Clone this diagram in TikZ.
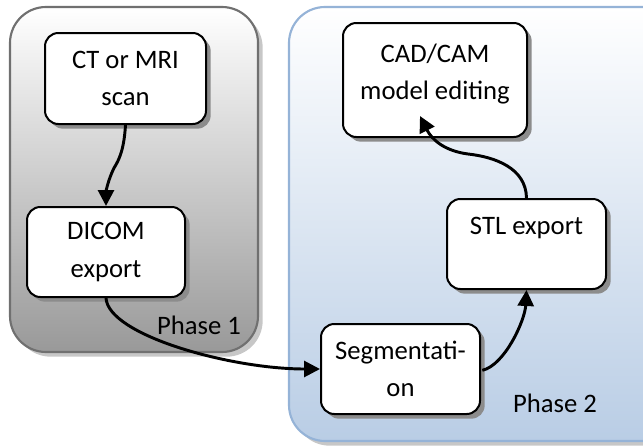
\documentclass[tikz,border=0pt]{standalone}
\usepackage{fontspec}
\setmainfont{Carlito}
\usetikzlibrary{arrows.meta,shadows}
\definecolor{pblue}{HTML}{95B3D7}
\definecolor{pbluefill}{HTML}{B9CDE5}
\definecolor{pgray}{HTML}{707070}
\begin{document}
\begin{tikzpicture}[x=0.75pt,y=-0.75pt,
  phase/.style={line width=1.6pt, rounded corners=27pt,
    drop shadow={shadow xshift=3.5pt,shadow yshift=-3.5pt,fill=black!22,opacity=1}},
  box/.style={draw=black, line width=1.5pt, fill=white, rounded corners=10pt,
    inner sep=0pt, align=center,
    font=\fontsize{20pt}{28pt}\selectfont,
    drop shadow={shadow xshift=3.5pt,shadow yshift=-3.5pt,fill=black!45,opacity=1}},
  lbl/.style={font=\fontsize{20pt}{28pt}\selectfont, inner sep=0pt},
  arr/.style={line width=2.2pt, -{Triangle[length=12pt,width=12pt]}}]
\clip (0,0) rectangle (643,446);
\useasboundingbox (0,0) rectangle (643,446);
% containers
\path[phase, draw=pgray, top color=white, bottom color=black!40]
  (10,7) rectangle (258,352);
\path[phase, draw=pblue, top color=white, bottom color=pbluefill]
  (289,7) rectangle (690,441);
\node[lbl] (p1) at (199,325) {Phase 1};
\node[lbl] (p2) at (555,403) {Phase 2};
% boxes
\node[box, minimum width=120.75pt, minimum height=68.25pt] (ct) at (125.5,78.5) {CT or MRI\\scan};
\node[box, minimum width=118.5pt, minimum height=67.5pt] (dicom) at (106,252) {DICOM\\export};
\node[box, minimum width=138pt, minimum height=85.5pt] (cad) at (435,80) {};
\node[lbl, align=center] (cadtxt) at (435,74) {CAD/CAM\\model editing};
\node[box, minimum width=119.25pt, minimum height=67.5pt] (stl) at (526.5,244) {};
\node[lbl] (stltxt) at (526.5,228) {STL export};
\node[box, minimum width=119.25pt, minimum height=67.5pt] (seg) at (400.5,369) {Segmentati-\\on};
% connectors
\draw[arr] (ct.south) .. controls (124,150) and (119,160) .. (114,168)
  .. controls (108,180) and (106,192) .. (dicom.north);
\draw[arr] (dicom.south) .. controls (108,335) and (230,369) .. (seg.west);
\draw[arr] ([xshift=1pt,yshift=-1pt]seg.east) .. controls (505,365) and (525,320) .. (stl.south);
\draw[arr] (stl.north) .. controls (526,168) and (495,157) .. (468,154)
  .. controls (445,151) and (432,140) .. ([xshift=-11.25pt,yshift=16.5pt]cad.south);
\end{tikzpicture}
\end{document}
